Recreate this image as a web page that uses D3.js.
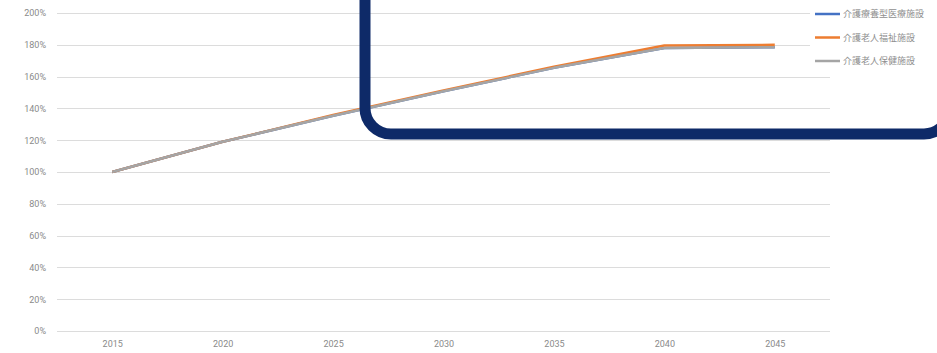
<!DOCTYPE html>
<html>
<head>
<meta charset="utf-8">
<script src="https://cdn.jsdelivr.net/npm/d3@7/dist/d3.min.js"></script>
<style>
  html, body { margin: 0; padding: 0; background: #fff; }
  svg { display: block; }
  text { font-family: "Noto Sans CJK JP", "Noto Sans", sans-serif; }
</style>
</head>
<body>
<svg id="chart" width="937" height="353"></svg>
<script>
// Projected facility demand, indexed to 2015 = 100%
const years = ["2015", "2020", "2025", "2030", "2035", "2040", "2045"];
const seriesNames = ["介護療養型医療施設", "介護老人福祉施設", "介護老人保健施設"];
const ryouyou = [1.00, 1.19, 1.354, 1.508, 1.655, 1.78, 1.785];
const fukushi = [1.00, 1.19, 1.358, 1.513, 1.662, 1.795, 1.80];
const hoken   = [1.00, 1.19, 1.354, 1.508, 1.655, 1.78, 1.785];
const yTicks = [0, 0.2, 0.4, 0.6, 0.8, 1.0, 1.2, 1.4, 1.6, 1.8, 2.0];
const colors = ["#4472c4", "#ed7d31", "#a5a5a5"];

const series = [ryouyou, fukushi, hoken];

const svg = d3.select("#chart");

const x = d3.scalePoint().domain(years).range([57, 830]).padding(0.5);
const y = d3.scaleLinear().domain([0, 2]).range([331, 13]);

// Horizontal gridlines
svg.append("g")
  .selectAll("line")
  .data(yTicks)
  .join("line")
  .attr("x1", 57).attr("x2", 830)
  .attr("y1", d => Math.round(y(d)) + 0.5)
  .attr("y2", d => Math.round(y(d)) + 0.5)
  .attr("stroke", "#dcdcdc")
  .attr("stroke-width", 1);

// Y axis labels
const yAxis = d3.axisLeft(y).tickValues(yTicks).tickSize(0).tickPadding(0)
  .tickFormat(d => Math.round(d * 100) + "%");
svg.append("g")
  .attr("transform", "translate(46,0)")
  .call(yAxis)
  .call(g => g.select(".domain").remove())
  .call(g => g.selectAll("text")
    .attr("fill", "#8a8a8a")
    .style("font-size", "9px")
    .style("font-family", "Roboto, 'Noto Sans', sans-serif"));

// X axis labels
const xAxis = d3.axisBottom(x).tickSize(0).tickPadding(0);
svg.append("g")
  .attr("transform", "translate(0,341)")
  .call(xAxis)
  .call(g => g.select(".domain").remove())
  .call(g => g.selectAll("text")
    .attr("fill", "#8a8a8a")
    .style("font-size", "9px")
    .style("font-family", "Roboto, 'Noto Sans', sans-serif"));

// Series lines
const line = d3.line()
  .x((d, i) => x(years[i]))
  .y(d => y(d));

svg.append("g")
  .selectAll("path")
  .data(series)
  .join("path")
  .attr("d", d => line(d))
  .attr("fill", "none")
  .attr("stroke", (d, i) => colors[i])
  .attr("stroke-width", 2.5)
  .attr("stroke-linejoin", "round");

// Legend
const legend = svg.append("g");
legend.append("rect")
  .attr("x", 810).attr("y", 4).attr("width", 127).attr("height", 66)
  .attr("fill", "#fff");
const rows = legend.selectAll("g.row")
  .data(seriesNames)
  .join("g")
  .attr("class", "row")
  .attr("transform", (d, i) => `translate(815,${14 + i * 23.5})`);
rows.append("line")
  .attr("x1", 0).attr("x2", 25)
  .attr("stroke", (d, i) => colors[i])
  .attr("stroke-width", 2.5);
rows.append("text")
  .attr("x", 28).attr("dy", "0.35em")
  .attr("fill", "#8f8f8f")
  .style("font-size", "9px")
  .text(d => d);

// Highlight frame around the 2030-2045 plateau
svg.append("rect")
  .attr("x", 365).attr("y", -60)
  .attr("width", 585).attr("height", 194)
  .attr("rx", 26).attr("ry", 26)
  .attr("fill", "none")
  .attr("stroke", "#0e2a68")
  .attr("stroke-width", 11);
</script>
</body>
</html>
